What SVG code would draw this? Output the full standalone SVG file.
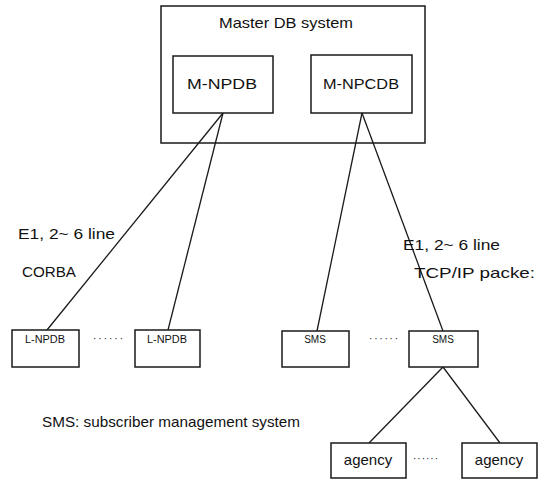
<svg xmlns="http://www.w3.org/2000/svg" width="554" height="480" viewBox="0 0 554 480">
  <style>
    .box { fill: #fff; stroke: #1a1a1a; stroke-width: 1.5; }
    .link { fill: none; stroke: #1a1a1a; stroke-width: 1.3; }
    .t { font-family: "Liberation Sans", Arial, sans-serif; fill: #111; }
    .big { font-size: 15px; }
    .small { font-size: 10px; }
    .mid { text-anchor: middle; }
  </style>
  <rect width="554" height="480" fill="#fff"/>

  <g id="master-db-system">
    <rect class="box" x="161" y="6" width="264" height="137"/>
    <text class="t big" x="219" y="28" textLength="134" lengthAdjust="spacingAndGlyphs">Master DB system</text>
  </g>

  <g id="connectors">
    <line class="link" x1="223" y1="113" x2="47" y2="330"/>
    <line class="link" x1="223" y1="113" x2="168" y2="330"/>
    <line class="link" x1="362" y1="113" x2="317" y2="331"/>
    <line class="link" x1="362" y1="113" x2="443" y2="331"/>
    <line class="link" x1="443" y1="367" x2="369" y2="443"/>
    <line class="link" x1="443" y1="367" x2="500" y2="443"/>
  </g>

  <g id="m-npdb">
    <rect class="box" x="173" y="56" width="100" height="57"/>
    <text class="t big" x="187" y="89" textLength="70" lengthAdjust="spacingAndGlyphs">M-NPDB</text>
  </g>
  <g id="m-npcdb">
    <rect class="box" x="311" y="55" width="101" height="58"/>
    <text class="t big" x="323" y="89" textLength="76" lengthAdjust="spacingAndGlyphs">M-NPCDB</text>
  </g>

  <g id="l-npdb-1">
    <rect class="box" x="12" y="330" width="67" height="37"/>
    <text class="t small" x="25" y="343" textLength="40" lengthAdjust="spacingAndGlyphs">L-NPDB</text>
  </g>
  <g id="l-npdb-2">
    <rect class="box" x="135" y="330" width="65" height="37"/>
    <text class="t small" x="147" y="343" textLength="40" lengthAdjust="spacingAndGlyphs">L-NPDB</text>
  </g>
  <text class="t small" x="93" y="342" textLength="30" lengthAdjust="spacing">······</text>

  <g id="sms-1">
    <rect class="box" x="282" y="331" width="67" height="36"/>
    <text class="t small mid" x="315" y="343">SMS</text>
  </g>
  <g id="sms-2">
    <rect class="box" x="409" y="331" width="69" height="36"/>
    <text class="t small mid" x="443" y="343">SMS</text>
  </g>
  <text class="t small" x="369" y="342" textLength="29" lengthAdjust="spacing">······</text>

  <g id="agency-1">
    <rect class="box" x="331" y="443" width="75" height="35"/>
    <text class="t big mid" x="368" y="465">agency</text>
  </g>
  <g id="agency-2">
    <rect class="box" x="462" y="443" width="75" height="35"/>
    <text class="t big mid" x="499" y="465">agency</text>
  </g>
  <text class="t small" x="413" y="462" textLength="25" lengthAdjust="spacing">······</text>

  <!-- link labels -->
  <text class="t big" x="18" y="239" textLength="97" lengthAdjust="spacingAndGlyphs">E1, 2~ 6 line</text>
  <text class="t big" x="22" y="277" textLength="54" lengthAdjust="spacingAndGlyphs">CORBA</text>
  <text class="t big" x="403" y="250" textLength="97" lengthAdjust="spacingAndGlyphs">E1, 2~ 6 line</text>
  <text class="t big" x="414" y="278" textLength="121" lengthAdjust="spacingAndGlyphs">TCP/IP packe:</text>

  <text class="t big" x="42" y="427" textLength="258" lengthAdjust="spacingAndGlyphs">SMS: subscriber management system</text>
</svg>
